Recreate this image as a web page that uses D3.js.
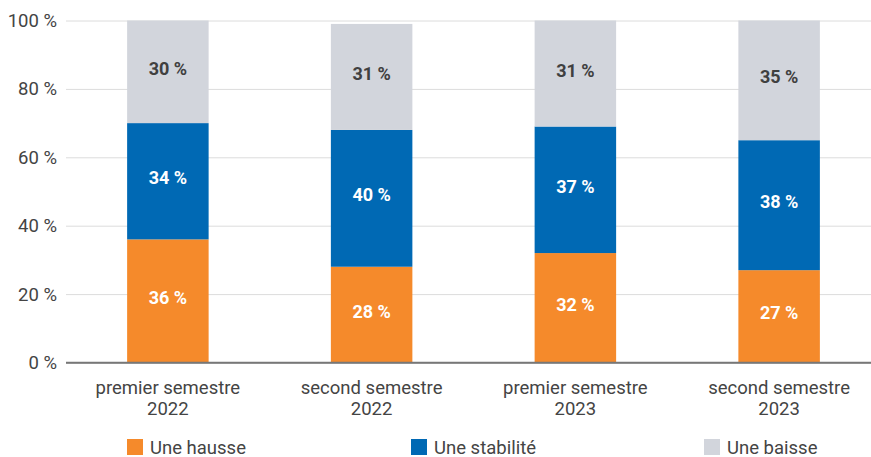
<!DOCTYPE html>
<html>
<head>
<meta charset="utf-8">
<script src="https://cdn.jsdelivr.net/npm/d3@7"></script>
<style>
  html, body { margin: 0; padding: 0; background: #fff; }
  svg { display: block; font-family: Roboto, "Noto Sans", sans-serif; }
</style>
</head>
<body>
<svg id="chart" width="871" height="457"></svg>
<script>
// Period categories (two-line labels)
const categories = [
  ["premier semestre", "2022"],
  ["second semestre", "2022"],
  ["premier semestre", "2023"],
  ["second semestre", "2023"]
];
// Share of answers, in %
const hausse    = [36, 28, 32, 27];
const stabilite = [34, 40, 37, 38];
const baisse    = [30, 31, 31, 35];
const seriesNames = ["Une hausse", "Une stabilité", "Une baisse"];
const seriesColors = ["#F58A2B", "#0069B4", "#D2D5DC"];
const labelColors = ["#ffffff", "#ffffff", "#404040"];
const yTicks = [0, 20, 40, 60, 80, 100];

const svg = d3.select("#chart");
const plotLeft = 66, plotRight = 871;

const x = d3.scaleBand()
  .domain(d3.range(categories.length))
  .range([66, 881])
  .paddingInner(0.6)
  .paddingOuter(0.3);

const y = d3.scaleLinear().domain([0, 100]).range([362.5, 20.5]);

// Gridlines and y tick labels
const yAxis = d3.axisLeft(y)
  .tickValues(yTicks)
  .tickSize(-(plotRight - plotLeft))
  .tickPadding(9)
  .tickFormat(d => d + " %");
const gy = svg.append("g")
  .attr("transform", `translate(${plotLeft},0)`)
  .call(yAxis);
gy.select(".domain").remove();
gy.selectAll(".tick line")
  .attr("stroke", d => d === 0 ? "#777" : "#dcdcdc")
  .attr("stroke-width", d => d === 0 ? 1.5 : 1);
gy.selectAll(".tick text")
  .attr("fill", "#444")
  .attr("font-size", 18.5)
  .attr("font-family", "Roboto, sans-serif");

// Stacked bars
const rows = categories.map((c, i) => ({ i, hausse: hausse[i], stabilite: stabilite[i], baisse: baisse[i] }));
const stack = d3.stack().keys(["hausse", "stabilite", "baisse"]);
const layers = stack(rows);

const gBars = svg.append("g");
layers.forEach((layer, k) => {
  gBars.selectAll(null)
    .data(layer)
    .join("rect")
    .attr("x", d => x(d.data.i))
    .attr("width", x.bandwidth())
    .attr("y", d => y(d[1]))
    .attr("height", d => y(d[0]) - y(d[1]))
    .attr("fill", seriesColors[k]);
});

// Zero line on top of bars
svg.append("line")
  .attr("x1", plotLeft).attr("x2", plotRight)
  .attr("y1", y(0)).attr("y2", y(0))
  .attr("stroke", "#777").attr("stroke-width", 1.5);

// Value labels
layers.forEach((layer, k) => {
  gBars.selectAll(null)
    .data(layer)
    .join("text")
    .attr("x", d => x(d.data.i) + x.bandwidth() / 2)
    .attr("y", d => (y(d[0]) + y(d[1])) / 2 + 3)
    .attr("text-anchor", "middle")
    .attr("font-size", 18)
    .attr("font-weight", "bold")
    .attr("fill", labelColors[k])
    .text(d => (d[1] - d[0]) + " %");
});

// Category labels
const gx = svg.append("g");
categories.forEach((lines, i) => {
  const t = gx.append("text")
    .attr("x", x(i) + x.bandwidth() / 2)
    .attr("y", 394)
    .attr("text-anchor", "middle")
    .attr("font-size", 18.5)
    .attr("fill", "#444");
  lines.forEach((ln, j) => {
    t.append("tspan")
      .attr("x", x(i) + x.bandwidth() / 2)
      .attr("dy", j === 0 ? 0 : 21)
      .text(ln);
  });
});

// Legend
const legendX = [127, 411, 704];
const gLeg = svg.append("g");
seriesNames.forEach((name, k) => {
  gLeg.append("rect")
    .attr("x", legendX[k]).attr("y", 439)
    .attr("width", 16).attr("height", 16)
    .attr("fill", seriesColors[k]);
  gLeg.append("text")
    .attr("x", legendX[k] + 23).attr("y", 454)
    .attr("font-size", 18.5)
    .attr("fill", "#444")
    .text(name);
});
</script>
</body>
</html>
